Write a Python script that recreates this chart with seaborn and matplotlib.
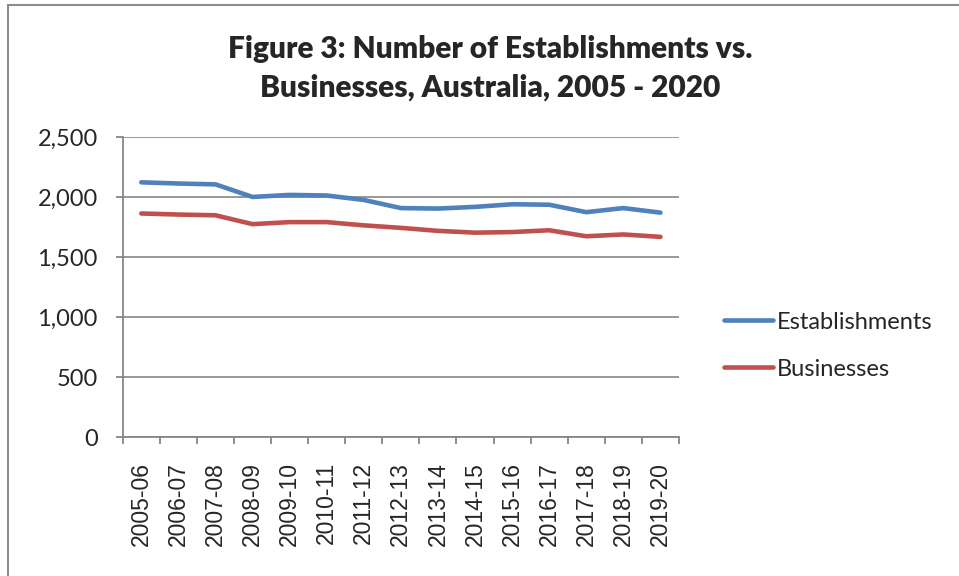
import matplotlib
matplotlib.use("Agg")
import matplotlib.pyplot as plt
import matplotlib.patches as mpatches
from matplotlib.ticker import FuncFormatter, FixedLocator
import seaborn as sns
import pandas as pd

years = ['2005-06', '2006-07', '2007-08', '2008-09', '2009-10', '2010-11', '2011-12',
         '2012-13', '2013-14', '2014-15', '2015-16', '2016-17', '2017-18', '2018-19', '2019-20']
establishments = [2125, 2115, 2108, 2003, 2020, 2015, 1978, 1910, 1906, 1920, 1942, 1938, 1876, 1910, 1872]
businesses = [1865, 1856, 1850, 1776, 1793, 1793, 1766, 1745, 1720, 1705, 1710, 1725, 1675, 1690, 1670]
series_names = ['Establishments', 'Businesses']
colors = {'Establishments': '#4F81BD', 'Businesses': '#C0504D'}

df = pd.DataFrame({
    'Year': years * 2,
    'Count': establishments + businesses,
    'Series': ['Establishments'] * len(years) + ['Businesses'] * len(years),
})
df['pos'] = list(range(len(years))) * 2

sns.set_theme(style='white')
plt.rcParams['font.family'] = ['Lato', 'DejaVu Sans']

fig = plt.figure(figsize=(9.59, 5.76), dpi=100)
ax = fig.add_axes([0.128, 0.2413, 0.58, 0.5202])

sns.lineplot(data=df, x='pos', y='Count', hue='Series', hue_order=series_names,
             palette=colors, linewidth=3.3, sort=False, ax=ax, legend=False,
             solid_capstyle='round')

grid_c = '#868686'
ax.set_xlim(-0.5, len(years) - 0.5)
ax.set_ylim(0, 2500)
ax.set_yticks([0, 500, 1000, 1500, 2000, 2500])
ax.yaxis.set_major_formatter(FuncFormatter(lambda v, p: f'{int(v):,}'))
ax.set_xticks(range(len(years)))
ax.set_xticklabels(years, rotation=90, fontfamily='Liberation Sans', fontsize=16.5)
ax.xaxis.set_minor_locator(FixedLocator([i - 0.5 for i in range(len(years) + 1)]))
ax.tick_params(axis='x', which='major', length=5, color='none', pad=13)
ax.tick_params(axis='x', which='minor', length=5, color=grid_c, width=1.3, direction='out', bottom=True)
ax.tick_params(axis='y', which='major', length=5, color=grid_c, width=1.3, direction='out', pad=13, labelsize=17, left=True)
ax.set_xlabel('')
ax.set_ylabel('')
ax.yaxis.grid(True, color=grid_c, linewidth=1.2)
ax.xaxis.grid(False)
for s in ['top', 'right']:
    ax.spines[s].set_visible(False)
for s in ['left', 'bottom']:
    ax.spines[s].set_color(grid_c)
    ax.spines[s].set_linewidth(1.3)
ax.set_axisbelow(True)

handles = [plt.Line2D([0], [0], color=colors[n], linewidth=3.3, solid_capstyle='round') for n in series_names]
fig.legend(handles, series_names, loc='center left', bbox_to_anchor=(0.745, 0.40),
           frameon=False, fontsize=17, handlelength=2.1, handletextpad=0.15,
           labelspacing=1.1, borderaxespad=0)

fig.text(0.511, 0.882, 'Figure 3: Number of Establishments vs.\nBusinesses, Australia, 2005 - 2020',
         ha='center', va='center', fontsize=21.5, fontweight='heavy', linespacing=1.47,
         multialignment='center')

border = mpatches.Rectangle((8 / 959, -0.1), 2.0, 1.1 - 5 / 576, transform=fig.transFigure,
                            fill=False, edgecolor='#8c8c8c', linewidth=1.5, clip_on=False)
fig.patches.append(border)

fig.savefig('out.png', dpi=100, facecolor='white')
